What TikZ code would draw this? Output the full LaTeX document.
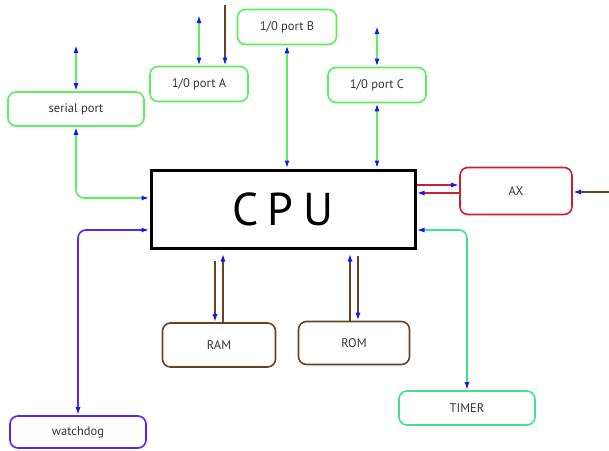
\documentclass[tikz,border=0pt]{standalone}
\usepackage{fontspec}
\setmainfont{PT Sans}
\usepackage{tikz}
\usetikzlibrary{arrows.meta, positioning}

\definecolor{portgreen}{RGB}{90,240,90}
\definecolor{timergreen}{RGB}{60,228,140}
\definecolor{axred}{RGB}{205,30,50}
\definecolor{membrown}{RGB}{105,65,30}
\definecolor{dogblue}{RGB}{85,35,255}
\definecolor{tipblue}{RGB}{20,20,255}

\tikzset{
  unit/.style={draw, rounded corners=8pt, line width=1.6pt, text=black!80,
    font=\fontsize{12.5}{14}\selectfont, inner sep=0pt},
  gline/.style={portgreen, line width=1.6pt},
  tline/.style={timergreen, line width=1.6pt},
  rline/.style={axred, line width=2pt},
  bline/.style={membrown, line width=1.8pt},
  wline/.style={dogblue, line width=1.6pt},
}

\begin{document}
\begin{tikzpicture}[x=1pt, y=-1pt, >={Latex[length=8pt,width=5pt,color=tipblue]}]
        \useasboundingbox (0,0) rectangle (609,450);
        % processor
        \node[draw, line width=3pt, minimum width=264pt, minimum height=78pt, inner sep=0pt] (cpu) at (283,209)
            {\fontsize{46}{46}\selectfont C\hspace{9pt}P\hspace{10pt}U};
        % boxes round it
        \node[unit, draw=portgreen, minimum width=136pt, minimum height=34pt] (serial) at (76,109) {serial port};
        \node[unit, draw=portgreen, minimum width=98pt, minimum height=35pt] (portA) at (199,84) {1/0 port A};
        \node[unit, draw=portgreen, minimum width=99pt, minimum height=35pt] (portB) at (287,27) {1/0 port B};
        \node[unit, draw=portgreen, minimum width=98pt, minimum height=35pt] (portC) at (377,85) {1/0 port C};
        \node[unit, draw=axred, minimum width=112pt, minimum height=47pt] (ax) at (516,191) {AX};
        \node[unit, draw=timergreen, minimum width=136pt, minimum height=34pt] (timer) at (467,408) {TIMER};
        \node[unit, draw=membrown, minimum width=113pt, minimum height=44pt] (ram) at (219,345) {RAM};
        \node[unit, draw=membrown, minimum width=111pt, minimum height=43pt] (rom) at (354,343) {ROM};
        \node[unit, draw=dogblue, minimum width=136pt, minimum height=32pt] (watchdog) at (78,432) {watchdog};
        % free ends
        \coordinate (sertop) at (76,45);
        \coordinate (atop) at (199,15);
        \coordinate (brA) at (225,5);
        \coordinate (ctop) at (377,26);
        \coordinate (brX) at (609,192);
        \coordinate (ax1) at ([yshift=6pt]ax.west);
        \coordinate (ax2) at ([yshift=-2pt]ax.west);
        \coordinate (ramL) at ([xshift=-4pt]ram.north);
        \coordinate (ramR) at ([xshift=4pt]ram.north);
        \coordinate (romL) at ([xshift=-4pt]rom.north);
        \coordinate (romR) at ([xshift=4pt]rom.north);
        % ports
        \draw[gline, <->] (sertop) -- (sertop |- serial.north);
        \draw[gline, <->, rounded corners=8pt] (serial.south) |- ([yshift=11pt]cpu.west);
        \draw[gline, <->] (atop) -- (atop |- portA.north);
        \draw[bline, ->] (brA) -- (brA |- portA.north);
        \draw[gline, <->] (portB.south) -- (portB.south |- cpu.north);
        \draw[gline, <->] (ctop) -- (ctop |- portC.north);
        \draw[gline, <->] (portC.south) -- (portC.south |- cpu.north);
        % AX
        \draw[rline, ->] (ax1 -| cpu.east) -- (ax1);
        \draw[rline, ->] (ax2) -- (ax2 -| cpu.east);
        \draw[bline, ->] (brX) -- (brX -| ax.east);
        % timer and watchdog
        \draw[tline, <->, rounded corners=8pt] (timer.north) |- ([yshift=-21pt]cpu.east);
        \draw[wline, <->, rounded corners=8pt] (watchdog.north) |- ([yshift=-21pt]cpu.west);
        % memory
        \draw[bline, ->, shorten <=11pt] (ramL |- cpu.south) -- (ramL);
        \draw[bline, ->, shorten >=4pt] (ramR) -- (ramR |- cpu.south);
        \draw[bline, ->, shorten >=4pt] (romL) -- (romL |- cpu.south);
        \draw[bline, ->, shorten <=6pt] (romR |- cpu.south) -- (romR);
\end{tikzpicture}
\end{document}
